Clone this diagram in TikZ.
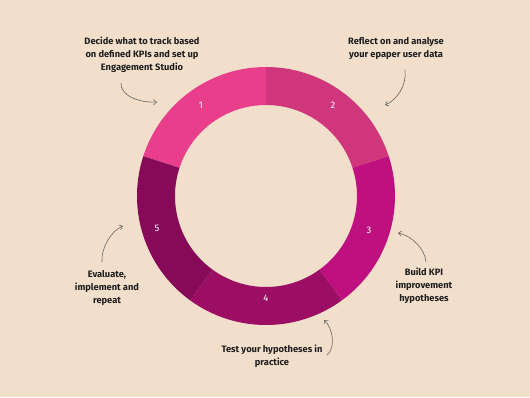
\documentclass[tikz,border=0pt]{standalone}
\usepackage{fontspec}
\setmainfont{Fira Sans}
\usetikzlibrary{arrows.meta,calc}
\definecolor{bg}{RGB}{241,223,203}
\definecolor{cA}{RGB}{232,62,140}
\definecolor{cB}{RGB}{208,54,124}
\definecolor{cC}{RGB}{190,16,126}
\definecolor{cD}{RGB}{155,14,100}
\definecolor{cE}{RGB}{134,10,87}
\definecolor{txt}{RGB}{30,30,30}
\definecolor{arr}{RGB}{100,100,100}
\tikzset{
  lbl/.style={align=center, text=txt, font=\fontsize{9.3}{13}\selectfont\bfseries, inner sep=0pt},
  num/.style={text=white, font=\fontsize{9.5}{10}\selectfont, inner sep=0pt},
  curvearrow/.style={draw=arr, line width=0.6pt, -{Straight Barb[length=3pt,width=5pt]}}
}
\begin{document}
\begin{tikzpicture}[x=1pt,y=1pt]
\fill[bg] (0,0) rectangle (530,397);
\useasboundingbox (0,0) rectangle (530,397);
\coordinate (C) at (266,201);
\def\Ro{129}
\def\Ri{91}
\foreach \a/\b/\c in {90/162/cA, 18/90/cB, -54/18/cC, -126/-54/cD, 162/234/cE}{
  \fill[\c] ($(C)+(\a:\Ro)$) arc[start angle=\a, end angle=\b, radius=\Ro]
    -- ($(C)+(\b:\Ri)$) arc[start angle=\b, end angle=\a, radius=\Ri] -- cycle;
}
\node[num] (n1) at (201,292) {1};
\node[num] (n2) at (333,292) {2};
\node[num] (n3) at (369,167) {3};
\node[num] (n4) at (266,99) {4};
\node[num] (n5) at (157,169) {5};

\node[lbl] (l1) at (142,342) {Decide what to track based\\on defined KPIs and set up\\Engagement Studio};
\node[lbl] (l2) at (396,348) {Reflect on and analyse\\your epaper user data};
\node[lbl] (l3) at (424,111) {Build KPI\\improvement\\hypotheses};
\node[lbl] (l4) at (272,40.5) {Test your hypotheses in\\practice};
\node[lbl] (l5) at (107,109) {Evaluate,\\implement and\\repeat};

\coordinate (a1s) at (121,314); \coordinate (a1e) at (157,295);
\coordinate (a2s) at (405,327); \coordinate (a2e) at (385,292);
\coordinate (a3s) at (426,135); \coordinate (a3e) at (398,164);
\coordinate (a4s) at (327,42);  \coordinate (a4e) at (324,77);
\coordinate (a5s) at (102,135); \coordinate (a5e) at (123,171);
\draw[curvearrow] (a1s) .. controls (120,301) and (140,294) .. (a1e);
\draw[curvearrow] (a2s) .. controls (407,312) and (397,297) .. (a2e);
\draw[curvearrow] (a3s) .. controls (425,149) and (410,162) .. (a3e);
\draw[curvearrow] (a4s) .. controls (336,49) and (333,69) .. (a4e);
\draw[curvearrow] (a5s) .. controls (101,149) and (111,166) .. (a5e);
\end{tikzpicture}
\end{document}
